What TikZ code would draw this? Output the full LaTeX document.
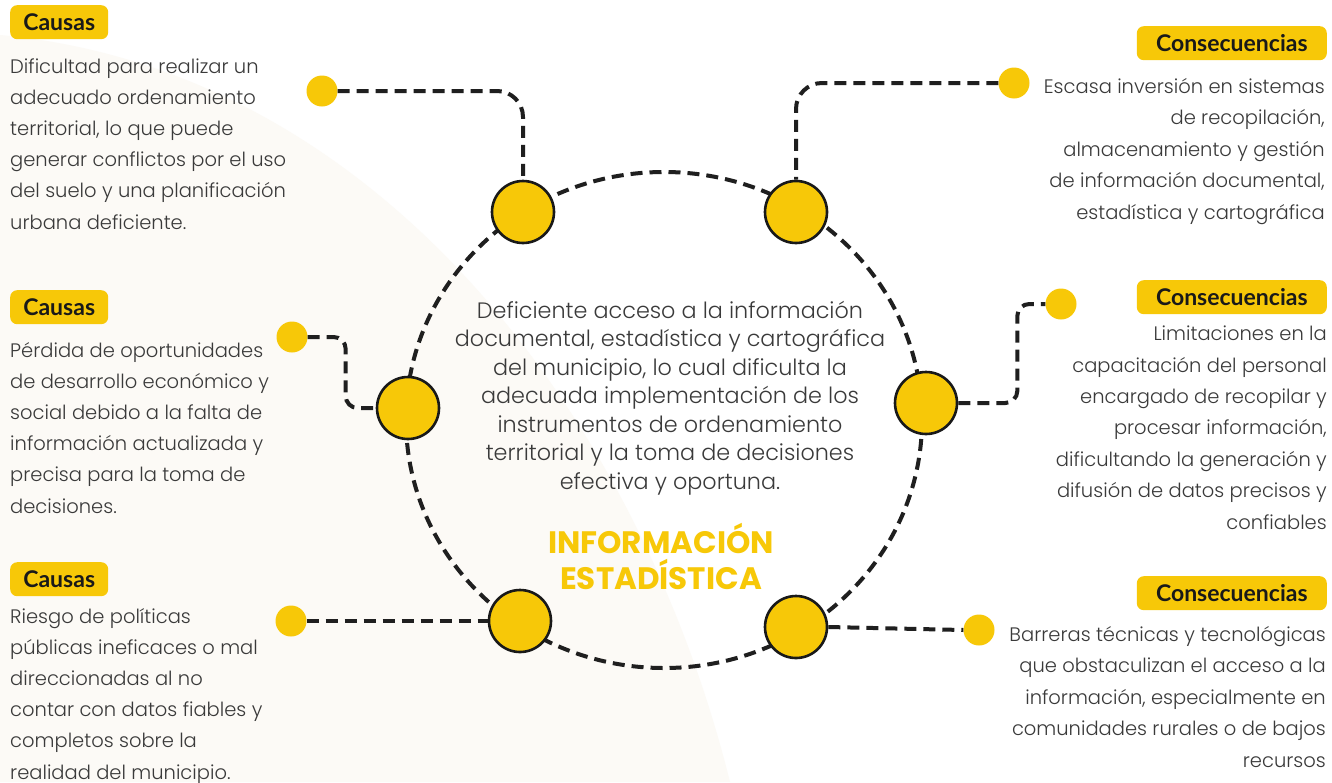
\documentclass[tikz,border=0pt]{standalone}
\usepackage{fontspec}
\setmainfont{Lato}
\newfontfamily\titlefont{Poppins}
\newfontfamily\bodyfont{Poppins Light}
\usetikzlibrary{calc}
\definecolor{ylw}{HTML}{F7C808}
\definecolor{ink}{HTML}{3A3A3A}
\definecolor{beige}{RGB}{252,250,246}
\tikzset{
  x=1pt, y=-1pt,
  bigdot/.style={circle, fill=ylw, draw=black!90, line width=2.6pt, minimum size=62pt, inner sep=0pt},
  smalldot/.style={circle, fill=ylw, minimum size=31pt, inner sep=0pt},
  dline/.style={line width=4pt, draw=black!88, dash pattern=on 12pt off 7pt},
  tag/.style={rounded corners=7pt, fill=ylw, inner sep=0pt, minimum height=34pt, font=\fontsize{23}{26}\selectfont\bfseries, text=black!90},
  bodyl/.style={anchor=base west, align=left, inner sep=0pt, text=ink, font=\bodyfont\fontsize{19.5}{31.2}\selectfont},
  bodyr/.style={anchor=base east, align=right, inner sep=0pt, text=ink, font=\bodyfont\fontsize{19.5}{31.4}\selectfont},
}
\begin{document}
\begin{tikzpicture}
\useasboundingbox (0,0) rectangle (1332,782);
\fill[white] (0,0) rectangle (1332,782);
\fill[beige] (0,35) .. controls (380,70) and (640,420) .. (730,782) -- (0,782) -- cycle;

% ring
\draw[dline] (664,420) ellipse [x radius=258, y radius=248];

% big dots
\node[bigdot] (b1) at (523,212) {};
\node[bigdot] (b2) at (796,212) {};
\node[bigdot] (b3) at (408,408) {};
\node[bigdot] (b4) at (926,403) {};
\node[bigdot] (b5) at (520,621) {};
\node[bigdot] (b6) at (796,627) {};

% small dots
\node[smalldot] (s1) at (322,91) {};
\node[smalldot] (s2) at (1014,83) {};
\node[smalldot] (s3) at (292,337) {};
\node[smalldot] (s4) at (1061,304) {};
\node[smalldot] (s5) at (291,621) {};
\node[smalldot] (s6) at (979,630) {};

% connectors
\draw[dline, rounded corners=26pt] (s1.east) -| (b1.north);
\draw[dline, rounded corners=26pt] (s2.west) -| (b2.north);
\draw[dline, rounded corners=12pt] (s3.east) -- ++(38,0) |- (b3.west);
\draw[dline, rounded corners=12pt] (b4.east) -- ++(59,0) |- (s4.west);
\draw[dline] (s5.east) -- (b5.west);
\draw[dline] (b6.east) -- (s6.west);

% tags
\node[tag, minimum width=98pt, anchor=north west] (t1) at (10,5) {Causas};
\node[tag, minimum width=98pt, anchor=north west] (t2) at (10,290) {Causas};
\node[tag, minimum width=98pt, anchor=north west] (t3) at (10,562) {Causas};
\node[tag, minimum width=190pt, anchor=north east] (t4) at (1327,26) {Consecuencias};
\node[tag, minimum width=190pt, anchor=north east] (t5) at (1327,280) {Consecuencias};
\node[tag, minimum width=190pt, anchor=north east] (t6) at (1327,576) {Consecuencias};

% left texts (base = last line)
\node[bodyl] (l1) at (10,229) {Dificultad para realizar un\\adecuado ordenamiento\\territorial, lo que puede\\generar conflictos por el uso\\del suelo y una planificación\\urbana deficiente.};
\node[bodyl] (l2) at (10,513) {Pérdida de oportunidades\\de desarrollo económico y\\social debido a la falta de\\información actualizada y\\precisa para la toma de\\decisiones.};
\node[bodyl] (l3) at (10,779) {Riesgo de políticas\\públicas ineficaces o mal\\direccionadas al no\\contar con datos fiables y\\completos sobre la\\realidad del municipio.};

% right texts
\node[bodyr] (r1) at (1325,219) {Escasa inversión en sistemas\\de recopilación,\\almacenamiento y gestión\\de información documental,\\estadística y cartográfica};
\node[bodyr] (r2) at (1327,529) {Limitaciones en la\\capacitación del personal\\encargado de recopilar y\\procesar información,\\dificultando la generación y\\difusión de datos precisos y\\confiables};
\node[bodyr] (r3) at (1326,767) {Barreras técnicas y tecnológicas\\que obstaculizan el acceso a la\\información, especialmente en\\comunidades rurales o de bajos\\recursos};

% centre
\node[anchor=base, align=center, inner sep=0pt, text=ink, font=\bodyfont\fontsize{22.3}{28.5}\selectfont] (ctext) at (670,489) {Deficiente acceso a la información\\documental, estadística y cartográfica\\del municipio, lo cual dificulta la\\adecuada implementación de los\\instrumentos de ordenamiento\\territorial y la toma de decisiones\\efectiva y oportuna.};
\node[anchor=base, align=center, inner sep=0pt, text=ylw, font=\titlefont\fontsize{31}{36}\selectfont\bfseries] (title) at (661,589) {INFORMACIÓN\\ESTADÍSTICA};
\end{tikzpicture}
\end{document}
